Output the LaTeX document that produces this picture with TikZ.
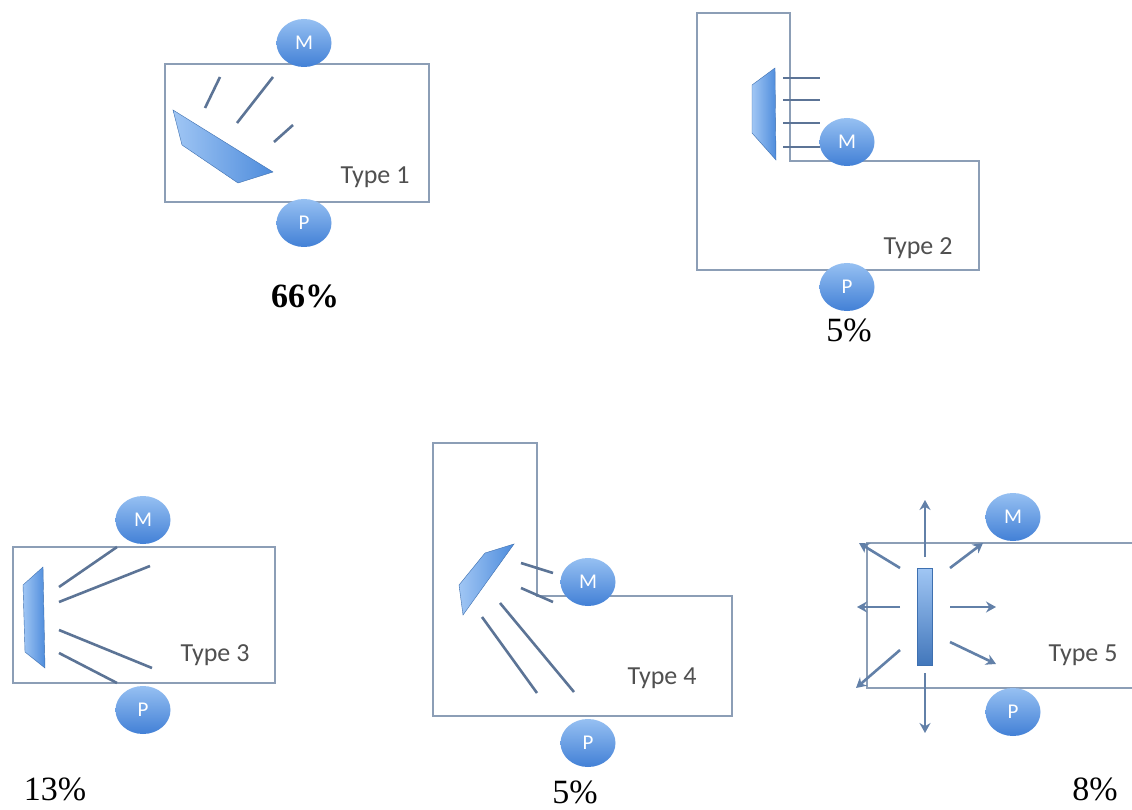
\documentclass[tikz,border=0pt]{standalone}
\usepackage{fontspec}
\setmainfont{Liberation Serif}
\newfontfamily\labfont{Carlito}
\usetikzlibrary{shapes.geometric,arrows.meta}
\definecolor{boxc}{RGB}{140,158,182}
\definecolor{rayc}{RGB}{92,116,150}
\definecolor{arrc}{RGB}{98,128,168}
\definecolor{cirtop}{RGB}{150,192,242}
\definecolor{cirbot}{RGB}{66,128,214}
\definecolor{shl}{RGB}{160,198,244}
\definecolor{shr}{RGB}{78,140,220}
\definecolor{typec}{RGB}{80,80,80}
\tikzset{
  roomline/.style={draw=boxc, line width=1.8pt},
  ray/.style={draw=rayc, line width=2.6pt},
  arr/.style={draw=arrc, line width=2.6pt, -{Stealth[length=10pt,width=11pt]}},
  flux/.style={left color=shl, right color=shr, draw=shr!80!black, line width=0.4pt},
  ball/.style={ellipse, minimum width=55pt, minimum height=48pt, inner sep=0pt,
     top color=cirtop, bottom color=cirbot, draw=none,
     font=\labfont\fontsize{21}{21}\selectfont, text=white},
  typelab/.style={font=\labfont\fontsize{26}{26}\selectfont, text=typec},
  pct/.style={font=\fontsize{34}{34}\selectfont, text=black},
}
\begin{document}
\begin{tikzpicture}[x=1pt,y=-1pt]
\useasboundingbox (0,0) rectangle (1132,810);
\fill[white] (0,0) rectangle (1132,810);

% ---------- Type 1 ----------
\draw[roomline] (165,64) rectangle (429,202);
\draw[ray] (205,108) -- (220,77);
\draw[ray] (237,123) -- (273,77);
\draw[ray] (274,142) -- (293,125);
\shade[flux] (173,110) -- (182,145) -- (238,183) -- (273,172) -- cycle;
\node[ball] (m1) at (304,43) {M};
\node[ball] (p1) at (304,223) {P};
\node[typelab] (t1) at (375,177) {Type 1};
\node[pct, font=\bfseries\fontsize{34}{34}\selectfont] (c1) at (305,296) {66\%};

% ---------- Type 2 ----------
\draw[roomline] (697,13) -- (790,13) -- (790,161) -- (979,161) -- (979,270) -- (697,270) -- cycle;
\foreach \yy in {78,100,123,147} \draw[ray] (783,\yy) -- (820,\yy);
\shade[flux] (752,85) -- (775,68) -- (776,160) -- (752,133) -- cycle;
\node[ball] (m2) at (847,142) {M};
\node[ball] (p2) at (847,287) {P};
\node[typelab] (t2) at (918,248) {Type 2};
\node[pct] (c2) at (849,330) {5\%};

% ---------- Type 3 ----------
\draw[roomline] (13,547) rectangle (275,683);
\draw[ray] (59,587) -- (117,547);
\draw[ray] (59,602) -- (150,566);
\draw[ray] (59,630) -- (152,668);
\draw[ray] (59,653) -- (117,683);
\shade[flux] (23,585) -- (43,567) -- (45,668) -- (25,652) -- cycle;
\node[ball] (m3) at (143,520) {M};
\node[ball] (p3) at (143,710) {P};
\node[typelab] (t3) at (215,655) {Type 3};
\node[pct] (c3) at (55,789) {13\%};

% ---------- Type 4 ----------
\draw[roomline] (433,443) -- (537,443) -- (537,596) -- (732,596) -- (732,716) -- (433,716) -- cycle;
\draw[ray] (521,563) -- (553,573);
\draw[ray] (521,588) -- (553,602);
\draw[ray] (500,603) -- (574,692);
\draw[ray] (482,617) -- (537,693);
\shade[flux] (459,585) -- (485,553) -- (514,544) -- (463,615) -- cycle;
\node[ball] (m4) at (588,582) {M};
\node[ball] (p4) at (588,743) {P};
\node[typelab] (t4) at (662,678) {Type 4};
\node[pct] (c4) at (575,792) {5\%};

% ---------- Type 5 ----------
\draw[roomline] (1132,543) -- (867,543) -- (867,688) -- (1132,688);
\shade[top color=shl, bottom color=shr!85!black, draw=shr!80!black, line width=0.4pt] (917,568) rectangle (932,665);
\coordinate (b5u) at (925,557);
\coordinate (b5d) at (925,673);
\coordinate (u5) at (925,500);
\coordinate (d5) at (925,733);
\draw[arr] (b5u) -- (u5);
\draw[arr] (b5d) -- (d5);
\draw[arr] (900,568) -- (859,543);
\draw[arr] (900,607) -- (857,607);
\draw[arr] (900,650) -- (856,688);
\draw[arr] (950,568) -- (983,543);
\draw[arr] (950,607) -- (996,607);
\draw[arr] (950,642) -- (996,664);
\node[ball] (m5) at (1013,517) {M};
\node[ball] (p5) at (1013,712) {P};
\node[typelab] (t5) at (1083,655) {Type 5};
\node[pct] (c5) at (1095,789) {8\%};
\end{tikzpicture}
\end{document}
